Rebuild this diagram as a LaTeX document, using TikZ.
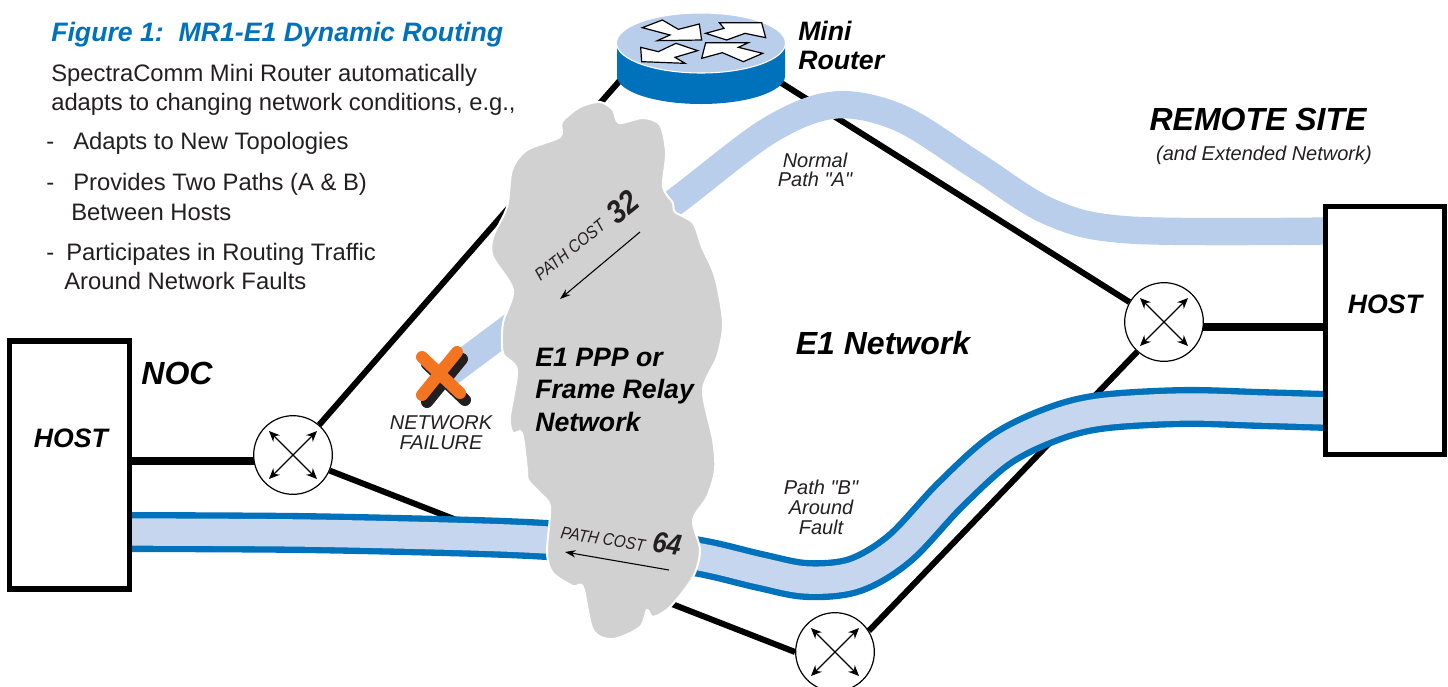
\documentclass[tikz,border=0pt]{standalone}
\usepackage{fontspec}
\setmainfont{Liberation Sans}[Ligatures=TeXOff]
\usetikzlibrary{arrows.meta}
\pgfdeclarelayer{links}\pgfdeclarelayer{strips}\pgfdeclarelayer{cloudlayer}
\pgfsetlayers{links,strips,cloudlayer,main}
\definecolor{bluedark}{HTML}{0072BC}
\definecolor{stripA}{HTML}{B8CEEB}
\definecolor{stripB}{HTML}{C5D6EE}
\definecolor{cloudgrey}{HTML}{D1D1D1}
\definecolor{ink}{HTML}{231F20}
\definecolor{xorange}{HTML}{F47521}
\tikzset{
 x=0.75pt,y=-0.75pt,
 hostbox/.style={draw=black,fill=white,line width=3.8pt,minimum width=89.5pt,minimum height=186pt,inner sep=0pt},
 routernode/.style={circle,draw=black,fill=white,line width=0.9pt,minimum size=59pt,inner sep=0pt},
 crossarrow/.style={line width=0.9pt,{Stealth[length=8pt,width=7pt]}-{Stealth[length=8pt,width=7pt]}},
 heavylink/.style={line width=6pt,draw=black},
 lightlink/.style={line width=4.5pt,draw=black},
 bi/.style={font=\fontsize{#1}{#1}\selectfont\bfseries\itshape,text=black,inner sep=0pt},
 it/.style={font=\fontsize{#1}{#1}\selectfont\itshape,text=ink,inner sep=0pt},
 body/.style={font=\fontsize{17.85}{18}\selectfont,text=ink,inner sep=0pt,anchor=base west},
 thinarrow/.style={line width=0.8pt,-{Stealth[length=8pt,width=5.5pt]}},
 miniarrow/.style={draw=black,fill=white,line width=0.9pt,line join=miter},
}
\begin{document}
\begin{tikzpicture}
\useasboundingbox (0,0) rectangle (1448,686);
% hosts and routers
\node[hostbox] (lh) at (69.5,465) {};
\node[hostbox] (rh) at (1385,330.5) {};
\node[bi=20] (lhl) at (71,438) {HOST};
\node[bi=20] (rhl) at (1385,304) {HOST};
\node[routernode] (lr) at (293,455) {};
\node[routernode] (rr) at (1164,322) {};
\node[routernode] (br) at (835,652) {};
\foreach \r in {lr,rr,br}{
 \draw[crossarrow] ([shift={(-24,-24)}]\r.center) -- ([shift={(24,24)}]\r.center);
 \draw[crossarrow] ([shift={(-24,24)}]\r.center) -- ([shift={(24,-24)}]\r.center);
}
% mini router
\coordinate (minil) at (650,46);
\coordinate (minir) at (740,57);
\fill[bluedark] (617,43) -- (617,76) arc[start angle=180,end angle=0,x radius=84,y radius=28] -- (785,43) -- cycle;
\draw[fill=stripA,draw=white,line width=0.8pt] (701,43) ellipse[x radius=84.5,y radius=30];
\begin{scope}[shift={(600,0)},xscale=1/3,yscale=1/3]
\draw[miniarrow] (127,83)--(187,60)--(235,88)--(298,72)--(305,120)--(172,122)--(210,105)--cycle;
\draw[miniarrow] (317,100)--(372,85)--(358,68)--(485,68)--(497,113)--(435,100)--(380,120)--cycle;
\draw[miniarrow] (122,142)--(175,155)--(228,130)--(293,152)--(225,172)--(255,190)--(125,185)--cycle;
\draw[miniarrow] (305,175)--(317,128)--(445,128)--(415,142)--(488,160)--(430,185)--(367,158)--cycle;
\end{scope}
% links
\begin{pgfonlayer}{links}
\coordinate (lhp) at ([yshift=3pt]lh.east);
\coordinate (rhp) at ([yshift=2.6pt]rh.west);
\draw[heavylink] (lhp) -- (lhp -| lr);
\draw[heavylink] (rhp) -- (rhp -| rr);
\draw[lightlink] (lr.49) -- (minil);
\draw[lightlink] (minir) -- (rr.150);
\draw[lightlink] (lr.-23) -- (br.180);
\draw[lightlink] (br.32) -- (rr.228);
\end{pgfonlayer}
% strips
\begin{pgfonlayer}{strips}
\draw[stripA,line width=20.5pt] plot[smooth,tension=0.55] coordinates {(445,376) (560,290) (680,198) (770,130) (835,105) (900,118) (975,165) (1050,212) (1130,230) (1327,231)};
\def\pathB{(130,532) (300,533) (460,536.5) (547,540) (620,546) (700,557) (760,571) (807,580) (855,575) (900,548) (950,495) (1000,450) (1050,425) (1100,412) (1183,407) (1260,409) (1327,411)}
\draw[bluedark,line width=30pt] plot[smooth,tension=0.55] coordinates {\pathB};
\draw[stripB,line width=20.5pt] plot[smooth,tension=0.55] coordinates {\pathB};
\end{pgfonlayer}
% cloud
\begin{pgfonlayer}{cloudlayer}
\draw[fill=cloudgrey,draw=white,line width=1.5pt] plot[smooth cycle,tension=0.5] coordinates {
(600,102) (613,110) (619,123) (643,118) (660,125) (666,153) (663,187) (673,203) (675,212) (693,223) (702,247) (715,277) (723,323) (717,357) (703,390) (713,440) (715,470) (707,497) (693,520) (700,550) (693,577) (670,607) (653,617) (647,610) (640,627) (613,639) (593,630) (583,587) (573,586) (553,573) (547,553) (550,507) (540,493) (528,480) (527,470) (522,433) (513,433) (510,417) (517,370) (503,353) (503,323) (513,290) (493,257) (493,237) (507,207) (512,170) (527,150) (560,137) (562,122) (580,107)};
\end{pgfonlayer}
% failure mark
\draw[ink,line width=9pt,line cap=round] (427,364) -- (465,400) (462,359) -- (427,402);
\draw[xorange,line width=9pt,line cap=round] (422,357) -- (460,393) (457,352) -- (422,395);
% cloud annotations
\coordinate (c32a) at (640,232); \coordinate (c32b) at (560,299);
\coordinate (c64a) at (669,570); \coordinate (c64b) at (565,552);
\draw[thinarrow] (c32a) -- (c32b);
\draw[thinarrow] (c64a) -- (c64b);
\node[it=13,rotate=39,xscale=0.88] (pc32) at (570,250) {PATH COST};
\node[bi=24,rotate=39,xscale=0.88,text=ink] (v32) at (623,207) {32};
\node[it=13,rotate=-9,xscale=0.88] (pc64) at (603,539) {PATH COST};
\node[bi=22,rotate=-9,xscale=0.88,text=ink] (v64) at (667,544) {64};
\node[bi=20,anchor=base west] (e1a) at (535,366) {E1 PPP or};
\node[bi=20,anchor=base west] (e1b) at (535,398) {Frame Relay};
\node[bi=20,anchor=base west] (e1c) at (535,431) {Network};
% labels
\node[bi=20,anchor=base west,align=left] (m1) at (798,40) {Mini};
\node[bi=20,anchor=base west,align=left] (m2) at (798,69) {Router};
\node[bi=24] (noc) at (177,373) {NOC};
\node[bi=24] (e1n) at (883,343) {E1 Network};
\node[bi=24,anchor=base] (rs) at (1258,130) {REMOTE SITE};
\node[it=15,anchor=base] (rs2) at (1264,160) {(and Extended Network)};
\node[it=15,anchor=base] (nf1) at (441,429) {NETWORK};
\node[it=15,anchor=base] (nf2) at (441,449) {FAILURE};
\node[it=15,anchor=base] (na1) at (815,167) {Normal};
\node[it=15,anchor=base] (na2) at (815,186) {Path "A"};
\node[it=15,anchor=base] (pb1) at (821,494) {Path "B"};
\node[it=15,anchor=base] (pb2) at (821,514) {Around};
\node[it=15,anchor=base] (pb3) at (821,534) {Fault};
% text block
\node[anchor=base west,inner sep=0pt,font=\fontsize{20}{20}\selectfont\bfseries\itshape,text=bluedark] (title) at (51,41) {Figure 1:\ \ MR1-E1 Dynamic Routing};
\node[body] (t1) at (51,81) {SpectraComm Mini Router automatically};
\node[body] (t2) at (51,110) {adapts to changing network conditions, e.g.,};
\node[body] (d1) at (46,149) {-};
\node[body] (t3) at (73,149) {Adapts to New Topologies};
\node[body] (d2) at (46,190) {-};
\node[body] (t4) at (73,190) {Provides Two Paths (A \& B)};
\node[body] (t5) at (71,220) {Between Hosts};
\node[body] (d3) at (46,260) {-};
\node[body] (t6) at (66,260) {Participates in Routing Traffic};
\node[body] (t7) at (64,289) {Around Network Faults};
\end{tikzpicture}
\end{document}
